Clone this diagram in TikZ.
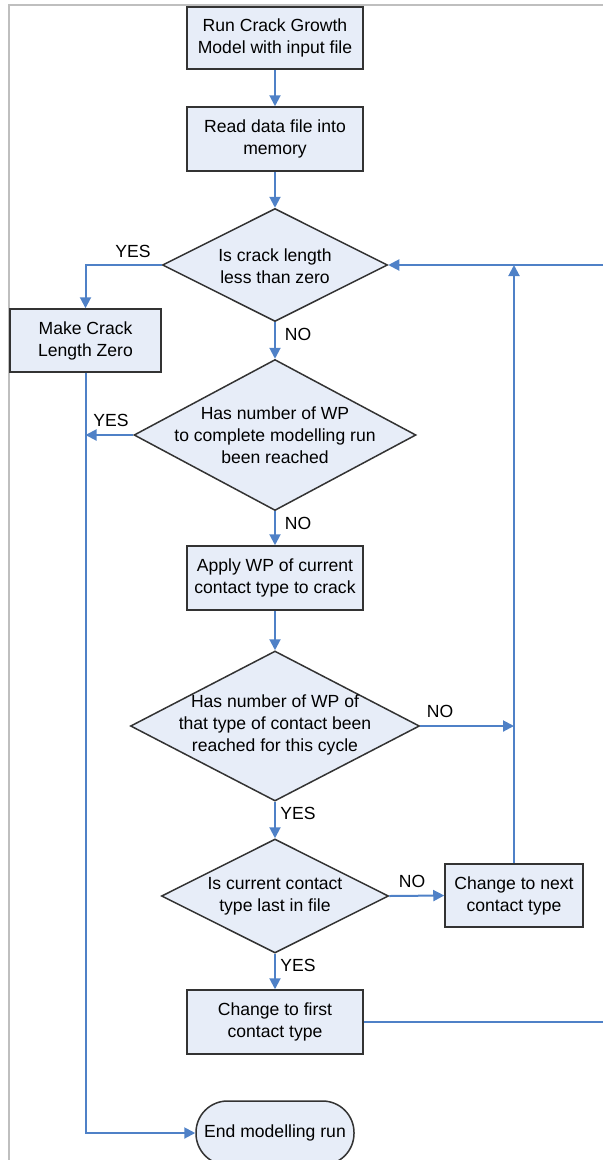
\documentclass[tikz,border=0pt]{standalone}
\usepackage{fontspec}
\setmainfont{Liberation Sans}
\usetikzlibrary{shapes.geometric,arrows.meta}
\definecolor{boxfill}{RGB}{231,237,248}
\definecolor{flowblue}{RGB}{79,129,199}

\begin{document}
\begin{tikzpicture}[x=0.2mm, y=-0.2mm,
  font=\fontsize{10pt}{12.5pt}\selectfont,
  stepbox/.style={draw=black!80, fill=boxfill, line width=0.3mm, align=center,
    minimum width=35.2mm, minimum height=12.8mm, inner sep=0pt},
  decision/.style={diamond, draw=black!80, fill=boxfill, line width=0.3mm, inner sep=0pt},
  question/.style={align=center, inner sep=0pt},
  flow/.style={flowblue, line width=0.4mm, -{Triangle[length=2.2mm,width=2.2mm]}},
  link/.style={flowblue, line width=0.4mm},
  answer/.style={inner sep=0pt}]
\useasboundingbox (0,0) rectangle (603,1160);
% Frame
\draw[black!25, line width=0.3mm] (9,1160) -- (9,5) -- (603,5);
% Boxes
\node[stepbox, minimum height=12.4mm] (start) at (275,38) {Run Crack Growth\\Model with input file};
\node[stepbox] (read) at (275,139) {Read data file into\\memory};
\node[stepbox, minimum width=30.2mm, minimum height=12.6mm] (zero) at (85.5,340.5) {Make Crack\\Length Zero};
\node[stepbox] (apply) at (275,578) {Apply WP of current\\contact type to crack};
\node[stepbox, minimum width=27.6mm, minimum height=12.6mm] (next) at (514,895.5) {Change to next\\contact type};
\node[stepbox] (first) at (275,1022) {Change to first\\contact type};
\node[stepbox, rounded corners=6.3mm, minimum width=31.6mm] (end) at (275,1133) {End modelling run};
% Decisions
\node[decision, minimum width=45mm, minimum height=22.6mm] (crack) at (275,265) {};
\node[question] (crackq) at (275,266) {Is crack length\\less than zero};
\node[decision, minimum width=56.4mm, minimum height=30.2mm] (wp) at (275,435) {};
\node[question] (wpq) at (275,435) {Has number of WP\\to complete modelling run\\been reached};
\node[decision, minimum width=57.8mm, minimum height=30mm] (type) at (275,726) {};
\node[question] (typeq) at (275,725) {Has number of WP of\\that type of contact been\\reached for this cycle};
\node[decision, minimum width=45.4mm, minimum height=22.8mm] (last) at (275,896) {};
\node[question] (lastq) at (275,896) {Is current contact\\type last in file};
% Free ends
\coordinate (backin) at (603,265);
\coordinate (backout) at (603,1022);
% Lines
\draw[flow] (start) -- (read);
\draw[flow] (read) -- (crack);
\draw[flow] (crack.west) -| (zero.north);
\draw[flow] (crack) -- (wp);
\draw[flow] (wp.west) -- (zero.south |- wp.west);
\draw[flow] (zero.south) |- (end.west);
\draw[flow] (wp) -- (apply);
\draw[flow] (apply) -- (type);
\draw[flow] (type.east) -- (next.north |- type.east);
\draw[flow] (type) -- (last);
\draw[flow] (last.east) -- (next.west);
\draw[flow] (last) -- (first);
\draw[flow] (next.north) -- (next.north |- crack.east);
\draw[flow] (backin) -- (crack.east);
\draw[link] (first.east) -- (backout);
% Answers
\node[answer] (yes1) at (133,251) {YES};
\node[answer] (no1) at (298,334) {NO};
\node[answer] (yes2) at (111,420) {YES};
\node[answer] (no2) at (298,523) {NO};
\node[answer] (no3) at (440,711) {NO};
\node[answer] (yes3) at (298,813) {YES};
\node[answer] (no4) at (412,881) {NO};
\node[answer] (yes4) at (298,965) {YES};
\end{tikzpicture}
\end{document}
